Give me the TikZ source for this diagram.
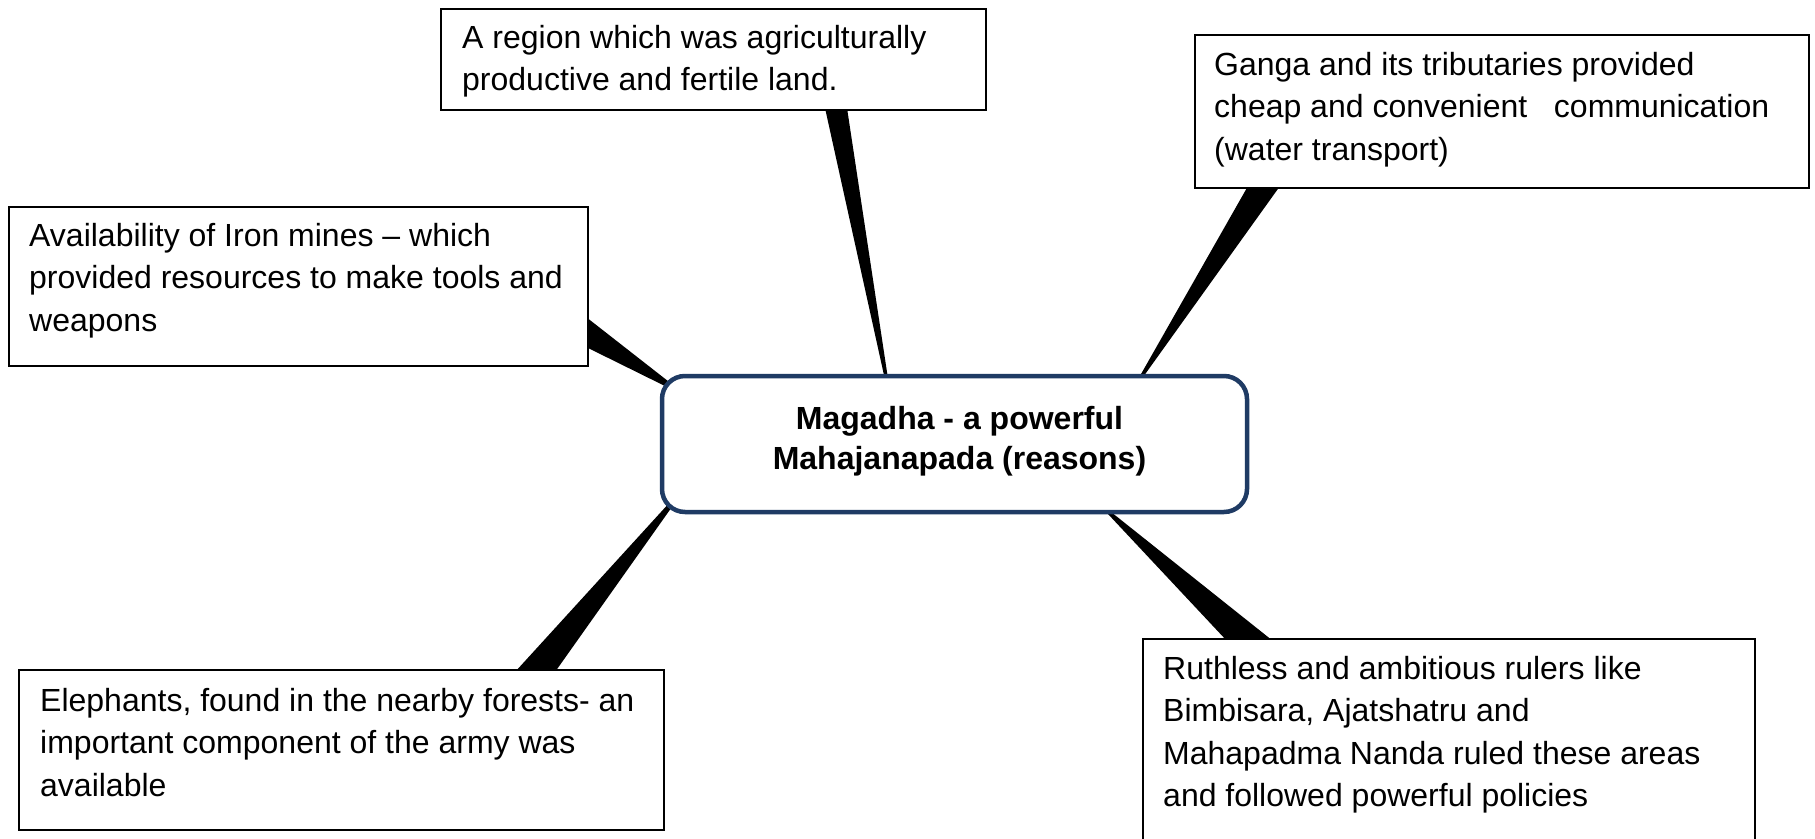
\documentclass[tikz,border=0pt]{standalone}
\usepackage{fontspec}
\setmainfont{Liberation Sans}
\usetikzlibrary{calc,backgrounds}
\definecolor{navy}{RGB}{31,59,100}
\begin{document}
\begin{tikzpicture}[x=1pt,y=-1pt,
  box/.style={draw=black, line width=1.8pt, fill=white, anchor=north west, inner sep=0pt, outer sep=0pt},
  centerbox/.style={draw=navy, line width=4.5pt, fill=white, rounded corners=23pt, anchor=north west, inner sep=0pt, outer sep=0pt},
  txt/.style={anchor=base west, align=left, inner sep=0pt, font=\fontsize{32}{42.5}\selectfont},
  ctxt/.style={anchor=center, align=center, inner sep=0pt, font=\fontsize{32}{40.5}\selectfont\bfseries},
  wedge/.style={fill=black, draw=none}]
\useasboundingbox (0,0) rectangle (1815,838);
\clip (0,0) rectangle (1815,838);

% boxes
\node[box, minimum width=545pt, minimum height=101pt] (tbox) at (441,9) {};
\node[box, minimum width=614pt, minimum height=153pt] (rbox) at (1195,35) {};
\node[box, minimum width=579pt, minimum height=159pt] (lbox) at (9,207) {};
\node[box, minimum width=645pt, minimum height=160pt] (blbox) at (19,670) {};
\node[box, minimum width=612pt, minimum height=240pt] (brbox) at (1143,639) {};
\node[centerbox, minimum width=585pt, minimum height=136pt] (cbox) at (662,376) {};

% texts (anchored at the baseline of the last line)
\node[txt] (ttxt) at (462,90.5) {A region which was agriculturally\\productive and fertile land.};
\node[txt] (rtxt) at (1214,160) {Ganga and its tributaries provided\\cheap and convenient \ \ communication\\(water transport)};
\node[txt] (ltxt) at (29,331) {Availability of Iron mines -- which\\provided resources to make tools and\\weapons};
\node[txt] (bltxt) at (40,796) {Elephants, found in the nearby forests- an\\important component of the army was\\available};
\node[txt] (brtxt) at (1163,806.5) {Ruthless and ambitious rulers like\\Bimbisara, Ajatshatru and\\Mahapadma Nanda ruled these areas\\and followed powerful policies};
\node[ctxt] (ctxt) at ($(cbox.center)+(5,-3)$) {Magadha - a powerful\\Mahajanapada (reasons)};

% wedges (behind the boxes)
\begin{pgfonlayer}{background}
\fill[white] (0,0) rectangle (1815,838);
\fill[wedge] ($(tbox.south west)+(384,-2)$) -- ($(tbox.south west)+(406,-2)$)
  -- ($(cbox.north west)+(226.5,6)$) -- ($(cbox.north west)+(223.5,6)$) -- cycle;
\fill[wedge] ($(rbox.south west)+(53,-2)$) -- ($(rbox.south west)+(85,-2)$)
  -- ($(cbox.north west)+(477.5,6)$) -- ($(cbox.north west)+(474.5,6)$) -- cycle;
\fill[wedge] ($(lbox.north east)+(-2,110)$) -- ($(lbox.north east)+(-2,140)$)
  -- ($(cbox.north west)+(9,13)$) -- ($(cbox.north west)+(11,9)$) -- cycle;
\fill[wedge] ($(blbox.north west)+(496,2)$) -- ($(blbox.north west)+(536,2)$)
  -- ($(cbox.south west)+(12,-8)$) -- ($(cbox.south west)+(9,-11)$) -- cycle;
\fill[wedge] ($(brbox.north west)+(84,2)$) -- ($(brbox.north west)+(130,2)$)
  -- ($(cbox.south west)+(441.5,-6)$) -- ($(cbox.south west)+(438.5,-6)$) -- cycle;
\end{pgfonlayer}
\end{tikzpicture}
\end{document}
